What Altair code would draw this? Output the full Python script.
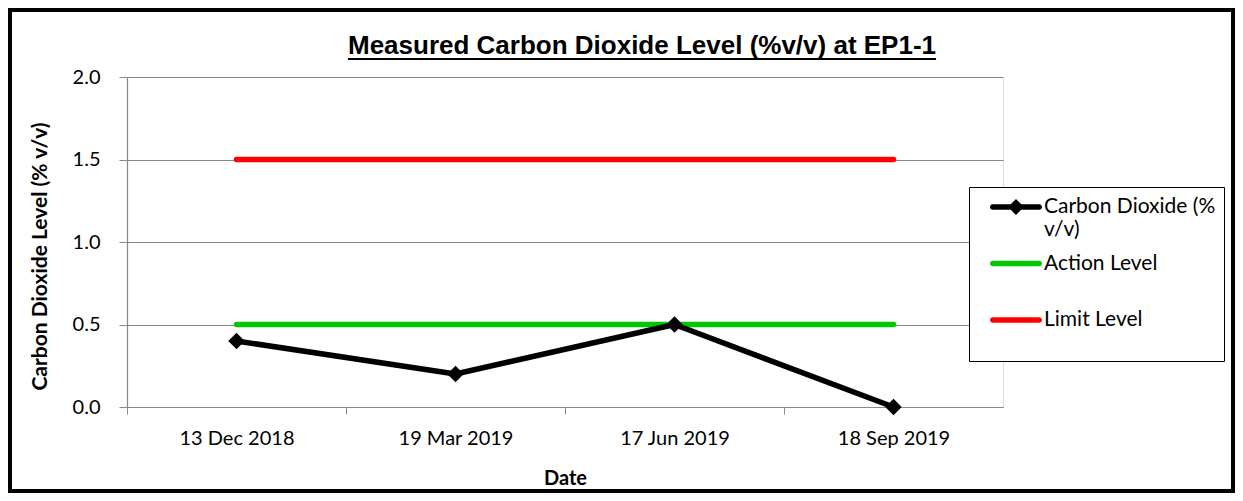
import altair as alt
import pandas as pd

# ---------------- data ----------------
dates = ["13 Dec 2018", "19 Mar 2019", "17 Jun 2019", "18 Sep 2019"]
co2_values = [0.4, 0.2, 0.5, 0.0]
action_values = [0.5, 0.5, 0.5, 0.5]
limit_values = [1.5, 1.5, 1.5, 1.5]
series_names = ["Carbon Dioxide (% v/v)", "Action Level", "Limit Level"]
series_colors = ["#000000", "#00C800", "#FF0000"]
y_ticks = [0.0, 0.5, 1.0, 1.5, 2.0]

chart_title = "Measured Carbon Dioxide Level (%v/v) at EP1-1"
x_title = "Date"
y_title = "Carbon Dioxide Level (% v/v)"

rows = []
for name, vals in zip(series_names, [co2_values, action_values, limit_values]):
    for d, v in zip(dates, vals):
        rows.append({"Date": d, "Series": name, "Value": v})
df = pd.DataFrame(rows)

# ---------------- layout ----------------
W, H = 876, 330
PAD = {"left": 119, "top": 69, "right": 232, "bottom": 86}
half_step = W / 8.0
GRAY = "#888888"
FONT = "Lato"

x_enc = alt.X(
    "Date:N",
    sort=dates,
    scale=alt.Scale(type="point", padding=0.5),
    axis=alt.Axis(
        title=x_title,
        titleFont=FONT, titleFontSize=20, titleFontWeight="bold", titleColor="black",
        titleY=71, titleBaseline="middle",
        labelFont=FONT, labelFontSize=20, labelColor="black", labelAngle=0,
        labelBaseline="middle", labelPadding=24,
        tickOffset=-half_step, labelOffset=half_step,
        tickSize=7, tickColor=GRAY, domainColor=GRAY, domainWidth=1.2,
        grid=False,
    ),
)
y_enc = alt.Y(
    "Value:Q",
    scale=alt.Scale(domain=[0, 2]),
    axis=alt.Axis(
        values=y_ticks, format=".1f",
        title=y_title,
        titleFont=FONT, titleFontSize=21, titleFontWeight="bold", titleColor="black",
        titleX=-87, titleY=179, titleAlign="center", titleBaseline="middle", titleAngle=270,
        labelFont=FONT, labelFontSize=20, labelColor="black", labelPadding=19,
        tickSize=8, tickColor=GRAY, domainColor=GRAY, domainWidth=1.2,
        grid=True, gridColor=GRAY, gridWidth=1.2,
    ),
)

color_scale = alt.Scale(domain=series_names, range=series_colors)

v = 12.0          # legend symbol unit (px)
half_len = 26.0 / v
r = 2.75 / v
dia = 8.0 / v
bar = (f"M{-half_len + r:.3f},{-r:.3f}L{half_len - r:.3f},{-r:.3f}"
       f"A{r:.3f},{r:.3f} 0 0 1 {half_len - r:.3f},{r:.3f}"
       f"L{-half_len + r:.3f},{r:.3f}A{r:.3f},{r:.3f} 0 0 1 {-half_len + r:.3f},{-r:.3f}Z")
diamond = f"M{-dia:.3f},0L0,{-dia:.3f}L{dia:.3f},0L0,{dia:.3f}Z"
shape_scale = alt.Scale(domain=series_names, range=[bar + diamond, bar, bar])

legend = alt.Legend(
    title=None,
    orient="none", legendX=842, legendY=110,
    fillColor="white", strokeColor="black",
    padding=8, symbolOffset=27, labelOffset=16, rowPadding=11.5,
    symbolSize=(2 * v) ** 2, symbolStrokeWidth=0,
    labelFont=FONT, labelFontSize=21, labelColor="black", labelLimit=0,
    labelExpr="datum.label == 'Carbon Dioxide (% v/v)' ? ['Carbon Dioxide (%', 'v/v)'] : [datum.label, '']",
)

base = alt.Chart(df)

action_line = base.transform_filter(alt.datum.Series == series_names[1]).mark_line(
    strokeWidth=5.5, strokeCap="round", color=series_colors[1]
).encode(x=x_enc, y=y_enc)

limit_line = base.transform_filter(alt.datum.Series == series_names[2]).mark_line(
    strokeWidth=5.5, strokeCap="round", color=series_colors[2]
).encode(x=x_enc, y=y_enc)

co2_line = base.transform_filter(alt.datum.Series == series_names[0]).mark_line(
    strokeWidth=5.5, strokeCap="round", strokeJoin="round", color=series_colors[0]
).encode(x=x_enc, y=y_enc)

co2_points = base.transform_filter(alt.datum.Series == series_names[0]).mark_point(
    shape="diamond", filled=True, size=270, opacity=1, color=series_colors[0]
).encode(x=x_enc, y=y_enc)

legend_layer = base.transform_filter("false").mark_point(filled=True, opacity=1).encode(
    x=x_enc, y=y_enc,
    color=alt.Color("Series:N", scale=color_scale, legend=legend),
    shape=alt.Shape("Series:N", scale=shape_scale, legend=legend),
)

one = pd.DataFrame({"k": [0]})
TITLE_SIZE = 26
title_w = 22.62 * TITLE_SIZE
title_cx = 642 - 127
title_text = alt.Chart(one).mark_text(
    font="Liberation Sans", fontSize=TITLE_SIZE, fontWeight="bold", color="black",
    align="center", baseline="alphabetic",
).encode(x=alt.value(title_cx), y=alt.value(-23), text=alt.value(chart_title))
underline = alt.Chart(one).mark_rule(color="black", strokeWidth=2).encode(
    x=alt.value(title_cx - title_w / 2), x2=alt.value(title_cx + title_w / 2),
    y=alt.value(-18),
)
border = alt.Chart(one).mark_rect(fillOpacity=0, stroke="black", strokeWidth=4).encode(
    x=alt.value(-PAD["left"] + 2), x2=alt.value(W + PAD["right"] - 2),
    y=alt.value(-PAD["top"] + 2), y2=alt.value(H + PAD["bottom"] - 2),
)

chart = alt.layer(
    border, action_line, limit_line, co2_line, co2_points, legend_layer,
    title_text, underline
).properties(
    width=W, height=H,
    autosize=alt.AutoSizeParams(type="none"),
    padding=PAD,
).configure_view(strokeWidth=0).configure(background="white")

chart.save("out.html", embed_options={"renderer": "svg", "actions": False})
